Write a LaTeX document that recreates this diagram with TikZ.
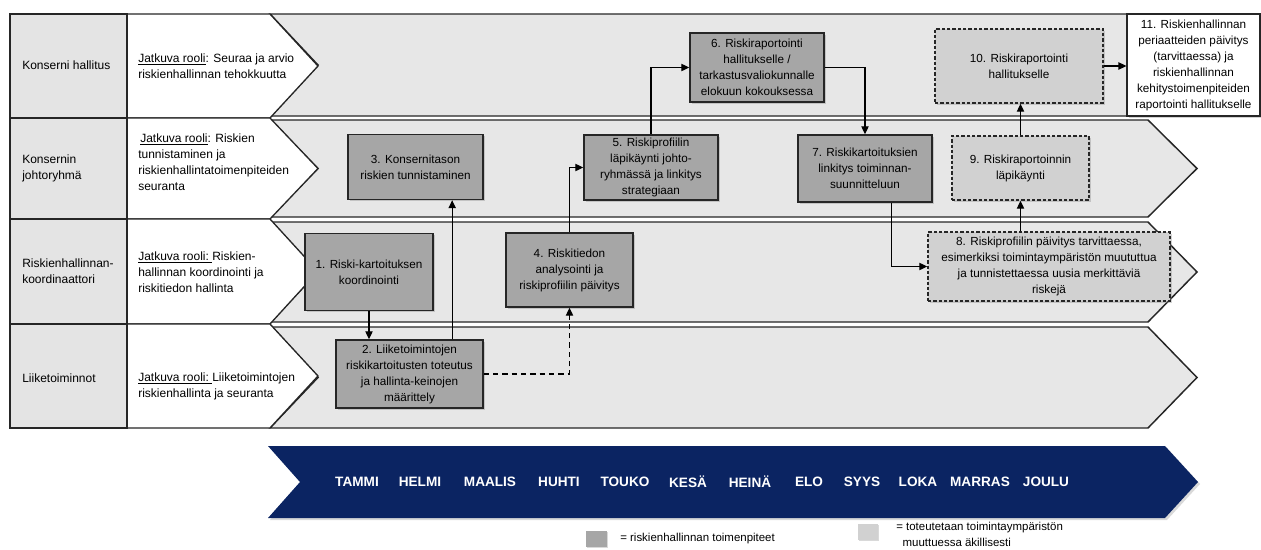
\documentclass[tikz,border=0pt]{standalone}
\usepackage{fontspec}
\setmainfont{Liberation Sans}
\usetikzlibrary{arrows.meta,shadows}

\definecolor{lanegrey}{HTML}{E7E7E7}
\definecolor{labelgrey}{HTML}{E4E4E4}
\definecolor{taskgrey}{HTML}{A6A6A6}
\definecolor{optgrey}{HTML}{D1D1D1}
\definecolor{monthnavy}{HTML}{0B2462}

\tikzset{lane/.style={fill=lanegrey,draw=black!85,line width=1.1pt},
         rolecell/.style={fill=white,draw=black!85,line width=1pt},
         labelcell/.style={fill=labelgrey,draw=black!85,line width=1pt},
         task/.style={draw=black!85,line width=1.1pt,fill=taskgrey,align=center,inner sep=0pt,
                      font=\fontsize{8.8}{12}\selectfont,
                      drop shadow={shadow xshift=1.2pt,shadow yshift=-1.2pt,opacity=0.35}},
         taskopt/.style={task,fill=optgrey,dash pattern=on 2.5pt off 1.5pt},
         flow/.style={-{Triangle[length=6pt,width=5.5pt]},line width=0.9pt},
         roletext/.style={anchor=west,align=left,inner sep=0pt,font=\fontsize{9}{12}\selectfont},
         monthtext/.style={text=white,font=\bfseries\fontsize{10.2}{12}\selectfont}}

\begin{document}
\begin{tikzpicture}[x=0.75pt,y=-0.75pt]
  \useasboundingbox (0,0) rectangle (1261,550);
  % swimlanes
  \draw[lane] (270,14) -- (1127,14) -- (1127,116) -- (270,116) -- (318,65) -- cycle;
  \foreach \ya/\yb in {120/217,222/322,327/428}
    \draw[lane] (270,\ya) -- (1148,\ya) -- (1197,{(\ya+\yb)/2}) -- (1148,\yb) -- (270,\yb) -- (318,{(\ya+\yb)/2}) -- cycle;
  \foreach \ya/\yb in {14/118,118/219,219/324,324/428}{
    \draw[rolecell] (127,\ya) -- (270,\ya) -- (318,{(\ya+\yb)/2}) -- (270,\yb) -- (127,\yb);
    \draw[labelcell] (10,\ya) rectangle (127,\yb);
  }

  % roles
  \node[roletext] (org1) at (22,65) {Konserni hallitus};
  \node[roletext] (org2) at (22,168.5) {Konsernin\\johtoryhmä};
  \node[roletext] (org3) at (22,271) {Riskienhallinnan-\\koordinaattori};
  \node[roletext] (org4) at (22,378) {Liiketoiminnot};
  \node[roletext] (role1) at (138,66) {\underline{Jatkuva rooli}: Seuraa ja arvio\\riskienhallinnan tehokkuutta};
  \node[roletext] (role2) at (138,162) {\,\underline{Jatkuva rooli}: Riskien\\tunnistaminen ja\\riskienhallintatoimenpiteiden\\seuranta};
  \node[roletext] (role3) at (138,272) {\underline{Jatkuva rooli:\ }Riskien-\\hallinnan koordinointi ja\\riskitiedon hallinta};
  \node[roletext] (role4) at (138,386) {\underline{Jatkuva rooli:\ }Liiketoimintojen\\riskienhallinta ja seuranta};

  % tasks
  \node[task,minimum width=96pt,minimum height=57.75pt] (b1) at (369,272) {1. Riski-kartoituksen\\koordinointi};
  \node[task,minimum width=110.25pt,minimum height=51pt] (b2) at (409.5,374) {2. Liiketoimintojen\\riskikartoitusten toteutus\\ja hallinta-keinojen\\määrittely};
  \node[task,minimum width=101.25pt,minimum height=48.75pt] (b3) at (415.5,167) {3. Konsernitason\\riskien tunnistaminen};
  \node[task,minimum width=95.25pt,minimum height=55.5pt] (b4) at (569.5,270) {4. Riskitiedon\\analysointi ja\\riskiprofiilin päivitys};
  \node[task,minimum width=100.5pt,minimum height=48.75pt] (b5) at (651,167.5) {5. Riskiprofiilin\\läpikäynti johto-\\ryhmässä ja linkitys\\strategiaan};
  \node[task,minimum width=100.5pt,minimum height=51.75pt] (b6) at (757,67.5) {6. Riskiraportointi\\hallitukselle /\\tarkastusvaliokunnalle\\elokuun kokouksessa};
  \node[task,minimum width=100.5pt,minimum height=50.25pt] (b7) at (865,168.5) {7. Riskikartoituksien\\linkitys toiminnan-\\suunnitteluun};
  \node[taskopt,minimum width=181.5pt,minimum height=51.75pt] (b8) at (1049,266.5) {8. Riskiprofiilin päivitys tarvittaessa,\\esimerkiksi toimintaympäristön muututtua\\ja tunnistettaessa uusia merkittäviä\\riskejä};
  \node[taskopt,minimum width=102.75pt,minimum height=48pt] (b9) at (1020.5,168) {9. Riskiraportoinnin\\läpikäynti};
  \node[taskopt,minimum width=126pt,minimum height=55.5pt] (b10) at (1019,66) {10. Riskiraportointi\\hallitukselle};
  \node[task,fill=white,line width=0.8pt,minimum width=99.75pt,minimum height=76.5pt] (b11) at (1193.5,65) {11. Riskienhallinnan\\periaatteiden päivitys\\(tarvittaessa) ja\\riskienhallinnan\\kehitystoimenpiteiden\\raportointi hallitukselle};

  % flow
  \draw[flow] (b1.south) -- (b1.south |- b2.north);
  \draw[flow] ([xshift=32pt]b2.north) coordinate (up3) -- (up3 |- b3.south);
  \draw[flow,dash pattern=on 4pt off 3pt] (b2.east) -| (b4.south);
  \draw[flow] (b4.north) |- (b5.west);
  \draw[flow] (b5.north) |- (b6.west);
  \draw[flow] (b6.east) -| (b7.north);
  \draw[flow] ([xshift=20pt]b7.south) |- (b8.west);
  \draw[flow] (b9.south |- b8.north) -- (b9.south);
  \draw[flow] (b9.north) -- (b9.north |- b10.south);
  \draw[flow] (b10.east) -- (b10.east -| b11.west);

  % months
  \fill[monthnavy,drop shadow={shadow xshift=1.5pt,shadow yshift=-1.5pt,opacity=0.3}]
    (268,446) -- (1165,446) -- (1198,482) -- (1165,518) -- (268,518) -- (300,482) -- cycle;
  \foreach \mx/\month in {357/TAMMI,420/HELMI,490/MAALIS,559/HUHTI,625/TOUKO,688/KESÄ,
                          750/HEINÄ,809/ELO,862/SYYS,918/LOKA,980/MARRAS,1046/JOULU}
    \node[monthtext] at (\mx,482) {\month};

  % legend
  \fill[taskgrey,drop shadow={shadow xshift=1pt,shadow yshift=-1pt,opacity=0.3}] (586,531) rectangle (607,547);
  \node[roletext,font=\fontsize{8.6}{12}\selectfont] (leg1) at (620,539) {= riskienhallinnan toimenpiteet};
  \fill[optgrey,drop shadow={shadow xshift=1pt,shadow yshift=-1pt,opacity=0.3}] (858,524) rectangle (878,540);
  \node[roletext,font=\fontsize{8.6}{12}\selectfont] (leg2) at (896,534) {= toteutetaan toimintaympäristön\\\ \ muuttuessa äkillisesti};
\end{tikzpicture}
\end{document}
